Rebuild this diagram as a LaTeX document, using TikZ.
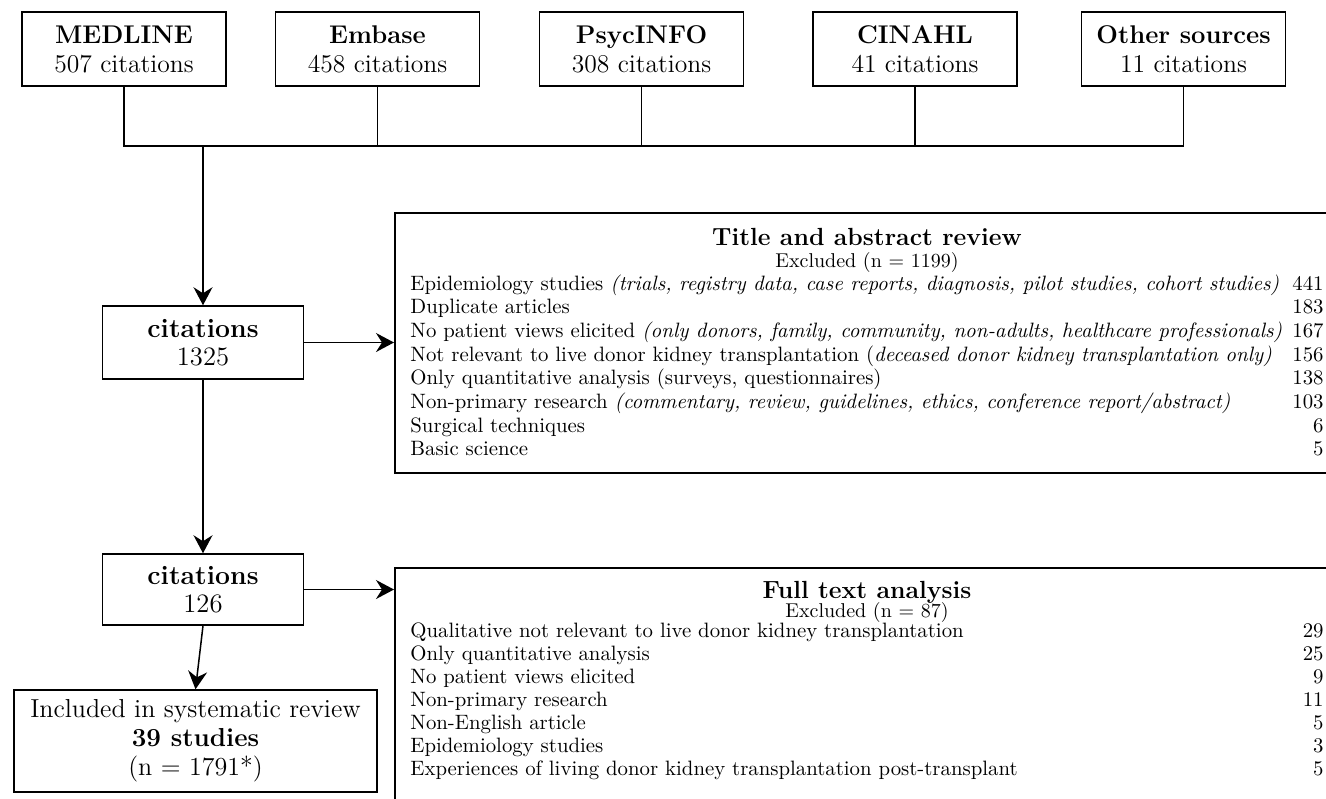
\documentclass[tikz,border=0pt]{standalone}
\usetikzlibrary{arrows.meta}
\begin{document}
\begin{tikzpicture}[x=0.5pt,y=-0.5pt,
  box/.style={draw, line width=0.75pt, align=center, inner sep=0pt},
  src/.style={box, minimum width=102pt, minimum height=37pt, font=\fontsize{12.8}{14.5}\selectfont},
  cit/.style={box, minimum width=100.5pt, font=\fontsize{13.3}{13.8}\selectfont},
  arr/.style={-{Stealth[length=9pt,width=9.5pt,inset=3pt]}, line width=0.75pt},
  ln/.style={line width=0.75pt},
  row/.style={anchor=base west, inner sep=0pt, font=\fontsize{10.4}{12}\selectfont},
  num/.style={anchor=base east, inner sep=0pt, font=\fontsize{10.4}{12}\selectfont},
  ttl/.style={inner sep=0pt, font=\fontsize{12.4}{14}\selectfont\bfseries},
  exc/.style={inner sep=0pt, font=\fontsize{10}{12}\selectfont}]
\useasboundingbox (0,0) rectangle (1326,798);
\clip (0,0) rectangle (1326,798);
% sources
\node[src] (med) at (124,49) {\textbf{MEDLINE}\\507 citations};
\node[src] (emb) at (377.5,49) {\textbf{Embase}\\458 citations};
\node[src] (psy) at (641.5,49) {\textbf{PsycINFO}\\308 citations};
\node[src] (cin) at (915,49) {\textbf{CINAHL}\\41 citations};
\node[src] (oth) at (1183.5,49) {\textbf{Other sources}\\11 citations};
\coordinate (hl) at (0,146);
\coordinate (j) at (203,146);
\draw[ln] (med.south) -- (med.south |- hl) -- (oth.south |- hl) -- (oth.south);
\draw[ln] (emb.south) -- (emb.south |- hl);
\draw[ln] (psy.south) -- (psy.south |- hl);
\draw[ln] (cin.south) -- (cin.south |- hl);
% citation boxes
\node[cit, minimum height=36.5pt] (c1) at (203,342.5) {\textbf{citations}\\1325};
\node[cit, minimum height=35.5pt] (c2) at (203,589.5) {\textbf{citations}\\126};
\node[box, minimum width=181.5pt, minimum height=51pt, font=\fontsize{13}{14.5}\selectfont] (inc) at (195.5,741)
  {Included in systematic review\\\textbf{39 studies}\\(n = 1791*)};
\draw[arr] (j) -- (c1.north);
\draw[arr] (c1.south) -- (c2.north);
\draw[arr] (c2.south) -- (inc.north);
% title and abstract review box
\node[draw, line width=0.75pt, anchor=north west, minimum width=473pt, minimum height=130pt, inner sep=0pt] (tab) at (394,212) {};
\draw[arr] (c1.east) -- (c1.east -| tab.west);
\node[ttl] (tabt) at (867,237) {Title and abstract review};
\node[exc] (tabx) at (867,262) {Excluded (n = 1199)};
\node[row] (a1) at (410,290) {Epidemiology studies \textit{(trials, registry data, case reports, diagnosis, pilot studies, cohort studies)}};
\node[num] (b1) at (1324,290) {441};
\node[row] (a2) at (410,313.7) {Duplicate articles};
\node[num] (b2) at (1324,313.7) {183};
\node[row] (a3) at (410,337.4) {No patient views elicited \textit{(only donors, family, community, non-adults, healthcare professionals)}};
\node[num] (b3) at (1324,337.4) {167};
\node[row] (a4) at (410,361.1) {Not relevant to live donor kidney transplantation (\textit{deceased donor kidney transplantation only)}};
\node[num] (b4) at (1324,361.1) {156};
\node[row] (a5) at (410,384.8) {Only quantitative analysis (surveys, questionnaires)};
\node[num] (b5) at (1324,384.8) {138};
\node[row] (a6) at (410,408.5) {Non-primary research \textit{(commentary, review, guidelines, ethics, conference report/abstract)}};
\node[num] (b6) at (1324,408.5) {103};
\node[row] (a7) at (410,432.2) {Surgical techniques};
\node[num] (b7) at (1324,432.2) {6};
\node[row] (a8) at (410,455.9) {Basic science};
\node[num] (b8) at (1324,455.9) {5};
% full text analysis box
\node[draw, line width=0.75pt, anchor=north west, minimum width=473pt, minimum height=125pt, inner sep=0pt] (fta) at (394,567) {};
\draw[arr] (c2.east) -- (c2.east -| fta.west);
\node[ttl] (ftat) at (867,592) {Full text analysis};
\node[exc] (ftax) at (867,612) {Excluded (n = 87)};
\node[row] (f1) at (410,637) {Qualitative not relevant to live donor kidney transplantation};
\node[num] (g1) at (1324,637) {29};
\node[row] (f2) at (410,660) {Only quantitative analysis};
\node[num] (g2) at (1324,660) {25};
\node[row] (f3) at (410,683) {No patient views elicited};
\node[num] (g3) at (1324,683) {9};
\node[row] (f4) at (410,706) {Non-primary research};
\node[num] (g4) at (1324,706) {11};
\node[row] (f5) at (410,729) {Non-English article};
\node[num] (g5) at (1324,729) {5};
\node[row] (f6) at (410,752) {Epidemiology studies};
\node[num] (g6) at (1324,752) {3};
\node[row] (f7) at (410,775) {Experiences of living donor kidney transplantation post-transplant};
\node[num] (g7) at (1324,775) {5};
\end{tikzpicture}
\end{document}
